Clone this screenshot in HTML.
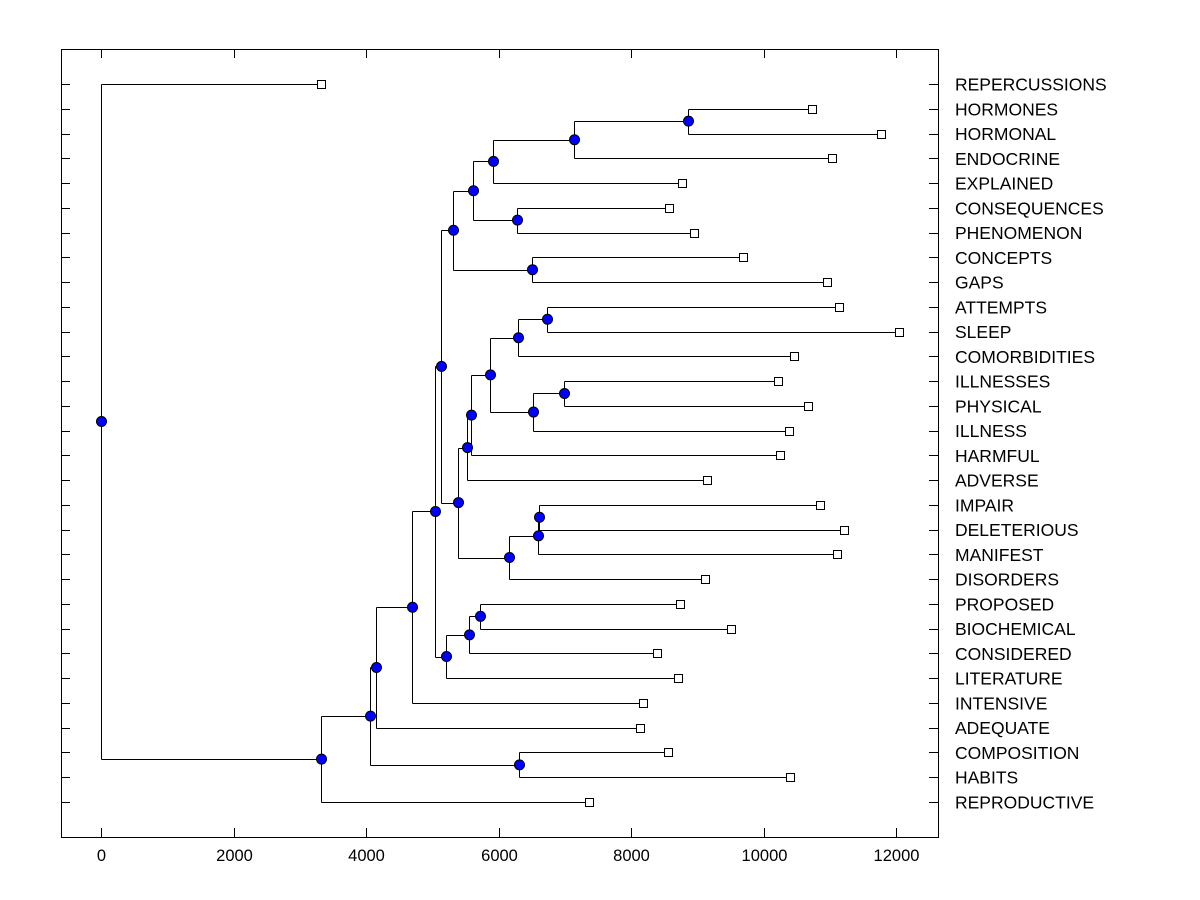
<!DOCTYPE html>
<html><head><meta charset="utf-8"><style>body{margin:0;background:#fff}svg{display:block}text{font-family:"Liberation Sans",Arial,sans-serif}</style></head>
<body>
<svg id="chart" width="1200" height="900" xmlns="http://www.w3.org/2000/svg">
<rect x="61.5" y="49.5" width="877" height="788" fill="none" stroke="#000" stroke-width="1"/>
<g id="g"></g>
</svg>
<script>
// tree: node = [height, left, right]; leaf = [label, value]
const tree = [0,
  ["REPERCUSSIONS", 3321],
  [3320,
    [4060,
      [4150,
        [4690,
          [5040,
            [5130,
              [5310,
                [5615,
                  [5915,
                    [7140,
                      [8860, ["HORMONES", 10730], ["HORMONAL", 11770]],
                      ["ENDOCRINE", 11030]],
                    ["EXPLAINED", 8770]],
                  [6280, ["CONSEQUENCES", 8570], ["PHENOMENON", 8950]]],
                [6505, ["CONCEPTS", 9690], ["GAPS", 10960]]],
              [5390,
                [5525,
                  [5585,
                    [5870,
                      [6295,
                        [6730, ["ATTEMPTS", 11140], ["SLEEP", 12045]],
                        ["COMORBIDITIES", 10460]],
                      [6520,
                        [6990, ["ILLNESSES", 10220], ["PHYSICAL", 10670]],
                        ["ILLNESS", 10385]]],
                    ["HARMFUL", 10250]],
                  ["ADVERSE", 9150]],
                [6160,
                  [6600,
                    [6615, ["IMPAIR", 10850], ["DELETERIOUS", 11215]],
                    ["MANIFEST", 11110]],
                  ["DISORDERS", 9120]]]],
            [5210,
              [5555,
                [5720, ["PROPOSED", 8740], ["BIOCHEMICAL", 9510]],
                ["CONSIDERED", 8390]],
              ["LITERATURE", 8710]]],
          ["INTENSIVE", 8180]],
        ["ADEQUATE", 8136]],
      [6310, ["COMPOSITION", 8560], ["HABITS", 10400]]],
    ["REPRODUCTIVE", 7366]]];
const xTicks = [0, 2000, 4000, 6000, 8000, 10000, 12000];

const NS = "http://www.w3.org/2000/svg";
const g = document.getElementById('g');
const X = v => Math.round(101 + v * 0.06625) + 0.5;
const Y0 = 84, DY = (802 - 84) / 29;
const R = y => Math.round(y) + 0.5;
let leafIdx = 0;
const lines = [], nodes = [], leaves = [];
function mk(t, a) { const e = document.createElementNS(NS, t); for (const k in a) e.setAttribute(k, a[k]); g.appendChild(e); return e; }
function walk(n) {
  if (typeof n[0] === 'string') {
    const y = Y0 + DY * leafIdx++;
    leaves.push({ name: n[0], x: X(n[1]), y });
    return { x: X(n[1]), y };
  }
  const a = walk(n[1]), b = walk(n[2]);
  const x = X(n[0]), y = (a.y + b.y) / 2;
  lines.push(`M${x},${R(a.y)}V${R(b.y)}M${x},${R(a.y)}H${a.x}M${x},${R(b.y)}H${b.x}`);
  nodes.push({ x, y });
  return { x, y };
}
walk(tree);
let p = mk('path', { d: lines.join(''), stroke: '#000', fill: 'none', 'stroke-width': 1 });


leaves.forEach((l, i) => {
  let t = mk('line', { x1: 61, x2: 70, y1: R(l.y), y2: R(l.y), stroke: '#000' });
  
  
  t = mk('line', { x1: 929, x2: 938, y1: R(l.y), y2: R(l.y), stroke: '#000' });
  
  
  const r = mk('rect', { x: l.x - 4, y: R(l.y) - 4, width: 8, height: 8, fill: '#fff', stroke: '#000' });
  
  
  const tx = mk('text', { x: 955, y: l.y + 6.5, 'font-size': 17.5 });
  tx.textContent = l.name;
  
  
});
nodes.forEach(n => {
  const c = mk('circle', { cx: n.x, cy: n.y, r: 5, fill: '#0000ff', stroke: '#000' });
  
  
});
xTicks.forEach(v => {
  const x = X(v);
  let t = mk('line', { x1: x, x2: x, y1: 828, y2: 837, stroke: '#000' });
  
  
  t = mk('line', { x1: x, x2: x, y1: 49, y2: 58, stroke: '#000' });
  
  
  const tx = mk('text', { x: x, y: 861, 'font-size': 16.5, 'text-anchor': 'middle' });
  tx.textContent = v;
  
  
});
</script>
</body></html>
